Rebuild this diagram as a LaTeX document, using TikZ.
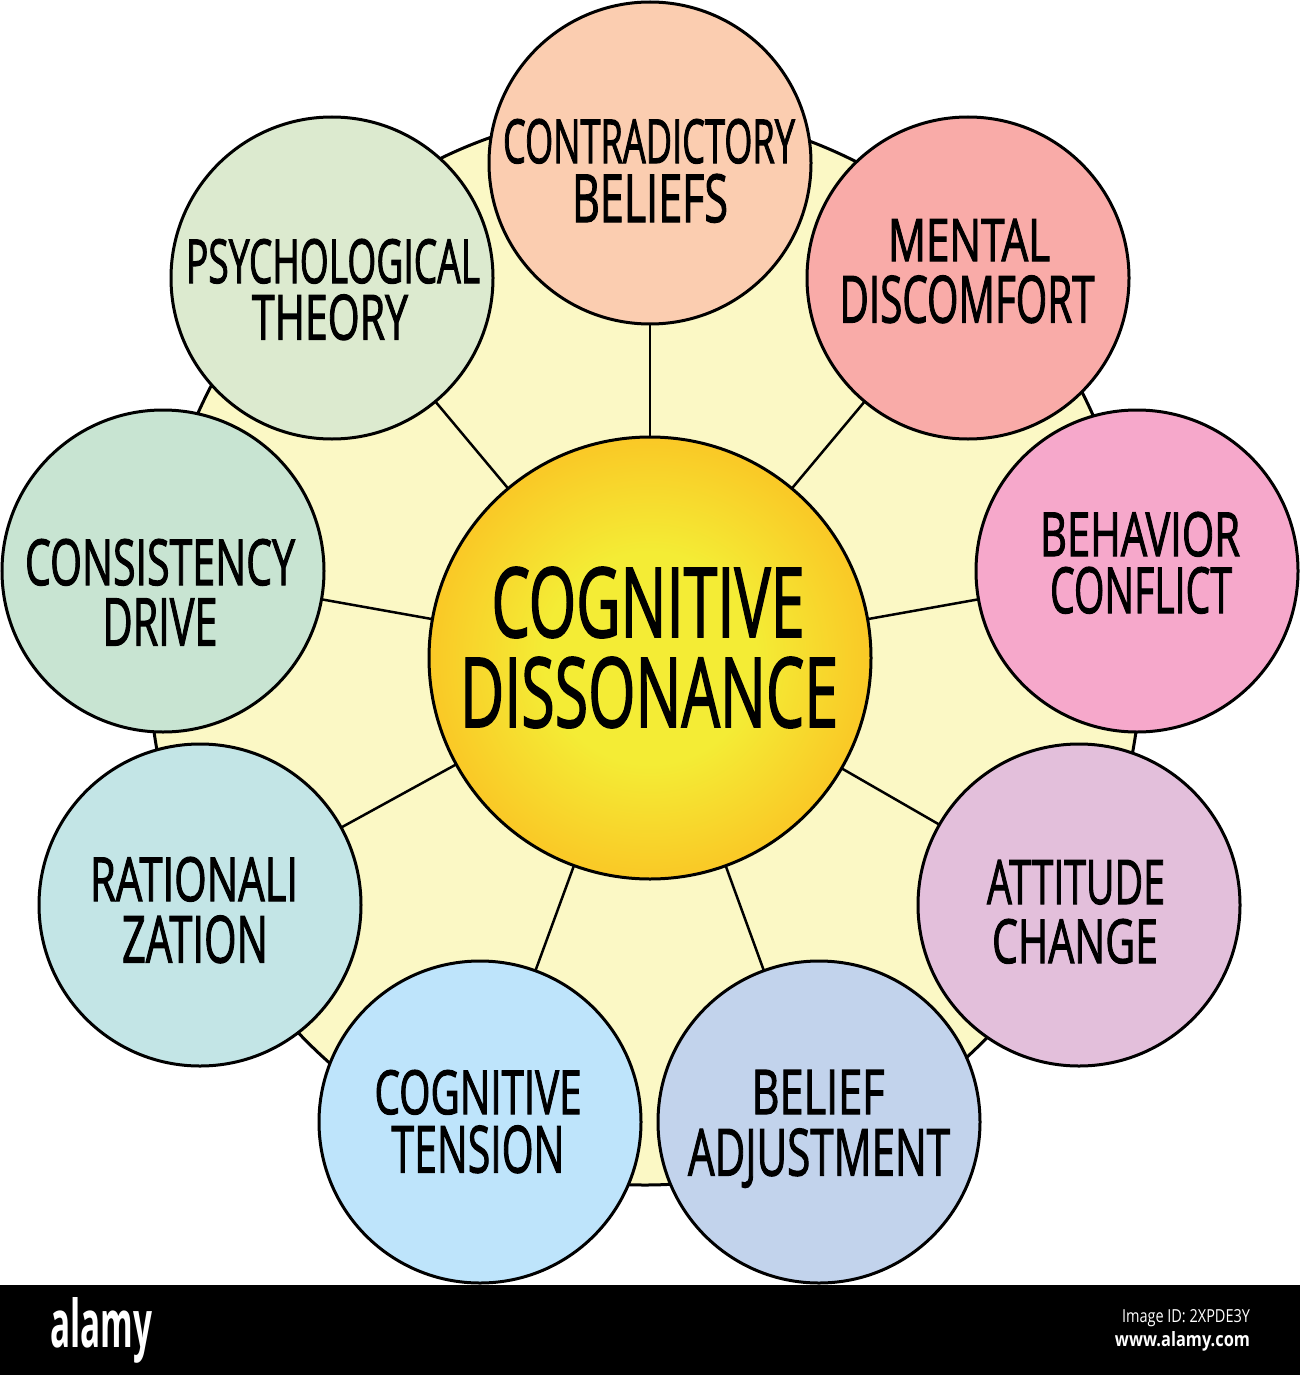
\documentclass[tikz,border=0pt]{standalone}
\usepackage{fontspec}
\usepackage{graphicx}
\setmainfont{Open Sans}
\newfontfamily\handfont[FakeBold=2.0]{Open Sans}
\definecolor{paleback}{HTML}{FBF8C5}
\definecolor{sunin}{HTML}{F4EC35}
\definecolor{sunout}{HTML}{FDB51E}
\definecolor{cA}{HTML}{FBCDB0}
\definecolor{cB}{HTML}{F9ABA8}
\definecolor{cC}{HTML}{F6A8CB}
\definecolor{cD}{HTML}{E3BFDB}
\definecolor{cE}{HTML}{C2D3EC}
\definecolor{cF}{HTML}{BEE4FB}
\definecolor{cG}{HTML}{C3E5E6}
\definecolor{cH}{HTML}{C8E4D2}
\definecolor{cI}{HTML}{DCEACF}
\pgfdeclareradialshading{sunshade}{\pgfpoint{0bp}{0bp}}{color(0bp)=(sunin);color(12bp)=(sunin);color(32bp)=(sunout);color(50bp)=(sunout)}
\newcommand{\fitline}[3]{\resizebox{#1pt}{#2pt}{\raisebox{0pt}[\height][0pt]{\handfont #3}}}
\tikzset{
  petal/.style={circle,draw=black,line width=3pt,minimum size=322pt,inner sep=0pt,outer sep=0pt},
  sun/.style={circle,draw=black,line width=3pt,minimum size=442pt,inner sep=0pt,outer sep=0pt,shading=sunshade},
  spoke/.style={draw=black,line width=2.5pt},
  word/.style={inner sep=0pt,outer sep=0pt,anchor=center,text=black},
  footer/.style={inner sep=0pt,outer sep=0pt,anchor=center,text=white}
}
\begin{document}
\begin{tikzpicture}[x=1pt,y=-1pt]
\useasboundingbox (0,0) rectangle (1300,1375);
\fill[white] (0,0) rectangle (1300,1375);
\fill[black] (0,1285) rectangle (1300,1375);
\draw[fill=paleback,draw=black,line width=3pt] (645,648) ellipse [x radius=497,y radius=537];
% nodes
\node[sun] (core) at (650,658) {};
\node[petal,fill=cI] (psy) at (332,278) {};
\node[petal,fill=cA] (con) at (650,163) {};
\node[petal,fill=cB] (men) at (968,278) {};
\node[petal,fill=cC] (beh) at (1137,571) {};
\node[petal,fill=cD] (att) at (1079,905) {};
\node[petal,fill=cE] (bel) at (819,1122) {};
\node[petal,fill=cF] (ten) at (480,1122) {};
\node[petal,fill=cG] (rat) at (200,905) {};
\node[petal,fill=cH] (cns) at (163,571) {};
% connectors
\foreach \o in {psy,con,men,beh,att,bel,ten,rat,cns}{\draw[spoke] (core) -- (\o);}
% labels
\node[word] (t1a) at (649,141) {\fitline{292}{44}{CONTRADICTORY}};
\node[word] (t1b) at (650,198) {\fitline{156}{48}{BELIEFS}};
\node[word] (t2a) at (969,240) {\fitline{162}{42}{MENTAL}};
\node[word] (t2b) at (967,299) {\fitline{255}{47}{DISCOMFORT}};
\node[word] (t3a) at (1140,534) {\fitline{200}{44}{BEHAVIOR}};
\node[word] (t3b) at (1141,590) {\fitline{182}{46}{CONFLICT}};
\node[word] (t4a) at (1076,882) {\fitline{178}{44}{ATTITUDE}};
\node[word] (t4b) at (1075,941) {\fitline{166}{44}{CHANGE}};
\node[word] (t5a) at (818,1092) {\fitline{133}{44}{BELIEF}};
\node[word] (t5b) at (819,1152) {\fitline{262}{47}{ADJUSTMENT}};
\node[word] (t6a) at (478,1092) {\fitline{207}{44}{COGNITIVE}};
\node[word] (t6b) at (478,1149) {\fitline{173}{47}{TENSION}};
\node[word] (t7a) at (194,879) {\fitline{208}{44}{RATIONALI}};
\node[word] (t7b) at (195,939) {\fitline{146}{47}{ZATION}};
\node[word] (t8a) at (160,562) {\fitline{270}{46}{CONSISTENCY}};
\node[word] (t8b) at (160,622) {\fitline{115}{47}{DRIVE}};
\node[word] (t9a) at (333,261) {\fitline{294}{44}{PSYCHOLOGICAL}};
\node[word] (t9b) at (330,317) {\fitline{156}{45}{THEORY}};
\node[word] (t0a) at (648,602) {\fitline{313}{70}{COGNITIVE}};
\node[word] (t0b) at (649,692) {\fitline{378}{70}{DISSONANCE}};
% footer
\node[footer,anchor=west] (logo) at (50,1330) {\resizebox{102pt}{50pt}{\bfseries alamy}};
\node[footer,anchor=east] (imgid) at (1250,1318) {\resizebox{128pt}{13pt}{Image ID: 2XPDE3Y}};
\node[footer,anchor=east] (site) at (1250,1341) {\resizebox{135pt}{15pt}{\bfseries www.alamy.com}};
\end{tikzpicture}
\end{document}
